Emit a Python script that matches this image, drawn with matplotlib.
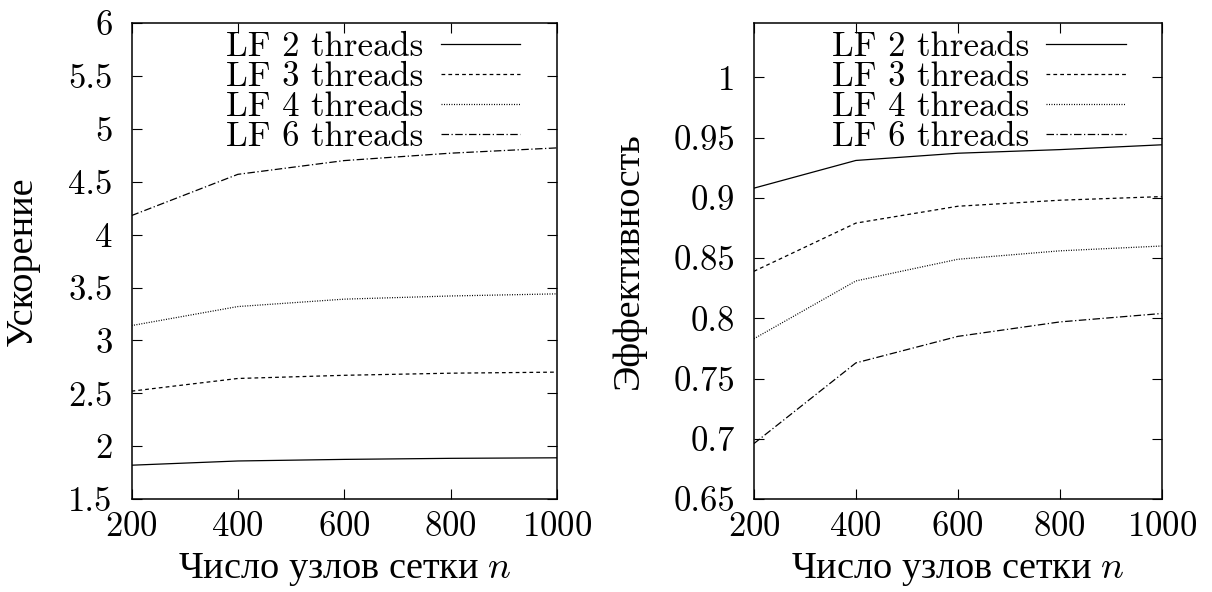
import numpy as np
import matplotlib
matplotlib.use("Agg")
import matplotlib.pyplot as plt
from matplotlib.ticker import FuncFormatter

# fonts: Computer Modern look, Cyrillic falls back to a serif face
plt.rcParams['font.family'] = ['cmr10', 'Liberation Serif']
plt.rcParams['mathtext.fontset'] = 'cm'
plt.rcParams['axes.formatter.use_mathtext'] = True
plt.rcParams['font.size'] = 19

# data
n_nodes = [200, 400, 600, 800, 1000]
labels = ['LF 2 threads', 'LF 3 threads', 'LF 4 threads', 'LF 6 threads']

speedup_2 = [1.82, 1.86, 1.875, 1.885, 1.89]
speedup_3 = [2.52, 2.64, 2.67, 2.69, 2.70]
speedup_4 = [3.14, 3.32, 3.39, 3.42, 3.44]
speedup_6 = [4.18, 4.57, 4.70, 4.77, 4.82]

eff_2 = [0.908, 0.931, 0.937, 0.940, 0.944]
eff_3 = [0.839, 0.879, 0.893, 0.898, 0.901]
eff_4 = [0.783, 0.831, 0.849, 0.856, 0.860]
eff_6 = [0.696, 0.763, 0.785, 0.797, 0.804]

# line styles like gnuplot's dash types
styles = [dict(linestyle='-'),
          dict(dashes=(3, 2.5)),
          dict(dashes=(0.8, 1.2)),
          dict(dashes=(6, 2, 1, 2))]

fig = plt.figure(figsize=(12.12, 5.92), dpi=100)
ax1 = fig.add_axes([0.1085, 0.157, 0.351, 0.804])
ax2 = fig.add_axes([0.622, 0.157, 0.3366, 0.804])

def fmt_g(v, pos):
    return '%g' % round(v, 4)

def style_axes(ax, series, ylim, yticks, ylabel, ylab_x):
    for ys, lab, st in zip(series, labels, styles):
        ax.plot(n_nodes, ys, color='black', linewidth=0.9, label=lab, **st)
    ax.set_xlim(200, 1000)
    ax.set_ylim(*ylim)
    ax.set_xticks(n_nodes)
    ax.set_yticks(yticks)
    ax.yaxis.set_major_formatter(FuncFormatter(fmt_g))
    ax.tick_params(direction='in', length=7.5, width=0.8, top=True, right=True,
                   labelsize=25)
    ax.tick_params(axis='y', pad=13.5)
    ax.tick_params(axis='x', pad=9)
    for sp in ax.spines.values():
        sp.set_linewidth(1.1)
    # the cyrillic label needs a font with cyrillic glyphs, n stays in cm italic
    ax.set_xlabel('Число узлов сетки $n$', fontsize=27.5, family='Liberation Serif')
    ax.xaxis.set_label_coords(0.5, -0.11)
    ax.set_ylabel(ylabel, fontsize=27.5)
    ax.yaxis.set_label_coords(ylab_x, 0.5)
    ax.legend(loc='upper right', frameon=False, markerfirst=False,
              fontsize=25, handlelength=2.3, handletextpad=0.5,
              labelspacing=-0.05, borderaxespad=0.1, bbox_to_anchor=(0.955, 1.019))

style_axes(ax1, [speedup_2, speedup_3, speedup_4, speedup_6],
           (1.5, 6), np.arange(1.5, 6.01, 0.5), 'Ускорение', -0.215)
style_axes(ax2, [eff_2, eff_3, eff_4, eff_6],
           (0.65, 1.045), np.arange(0.65, 1.001, 0.05), 'Эффективность', -0.265)

fig.savefig('out.png', dpi=100)
